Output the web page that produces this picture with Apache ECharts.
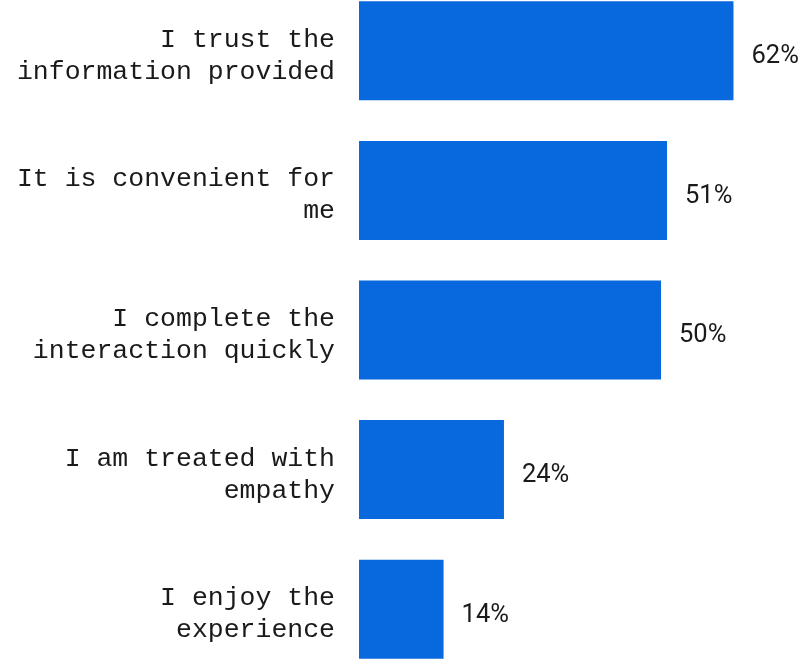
<!DOCTYPE html>
<html>
<head>
<meta charset="utf-8">
<script src="https://cdn.jsdelivr.net/npm/echarts@6/dist/echarts.min.js"></script>
<style>
  html, body { margin: 0; padding: 0; background: #ffffff; }
  #chart { width: 811px; height: 661px; }
</style>
</head>
<body>
<div id="chart"></div>
<script>
// Survey reasons, top to bottom
const categories = [
  'I trust the\ninformation provided',
  'It is convenient for\nme',
  'I complete the\ninteraction quickly',
  'I am treated with\nempathy',
  'I enjoy the\nexperience'
];
// Share of respondents (%)
const shares = [62, 51, 50, 24, 14];

const chart = echarts.init(document.getElementById('chart'));
chart.setOption({
  animation: false,
  grid: {
    left: 359, top: -19, width: 604, height: 698,
    containLabel: false,
    outerBoundsMode: 'none'
  },
  xAxis: {
    type: 'value',
    min: 0,
    max: 100,
    show: false
  },
  yAxis: {
    type: 'category',
    data: categories,
    inverse: true,
    axisLine: { show: false },
    axisTick: { show: false },
    axisLabel: {
      margin: 24,
      align: 'right',
      // a short spacer line above the text nudges each label slightly below its bar centre
      formatter: (v) => '{gap| }\n' + v.split('\n').map((l) => '{t|' + l + '}').join('\n'),
      rich: {
        gap: { fontSize: 4, lineHeight: 10 },
        t: {
          fontFamily: 'Liberation Mono',
          fontSize: 26.5,
          lineHeight: 32,
          color: '#1a1a1a'
        }
      }
    }
  },
  series: [{
    type: 'bar',
    data: shares,
    barWidth: 99,
    itemStyle: { color: '#0868dd' },
    label: {
      show: true,
      position: 'right',
      distance: 18,
      offset: [0, 6],
      formatter: '{c}%',
      fontFamily: 'Roboto',
      fontSize: 25.5,
      color: '#1a1a1a'
    }
  }]
});
</script>
</body>
</html>
